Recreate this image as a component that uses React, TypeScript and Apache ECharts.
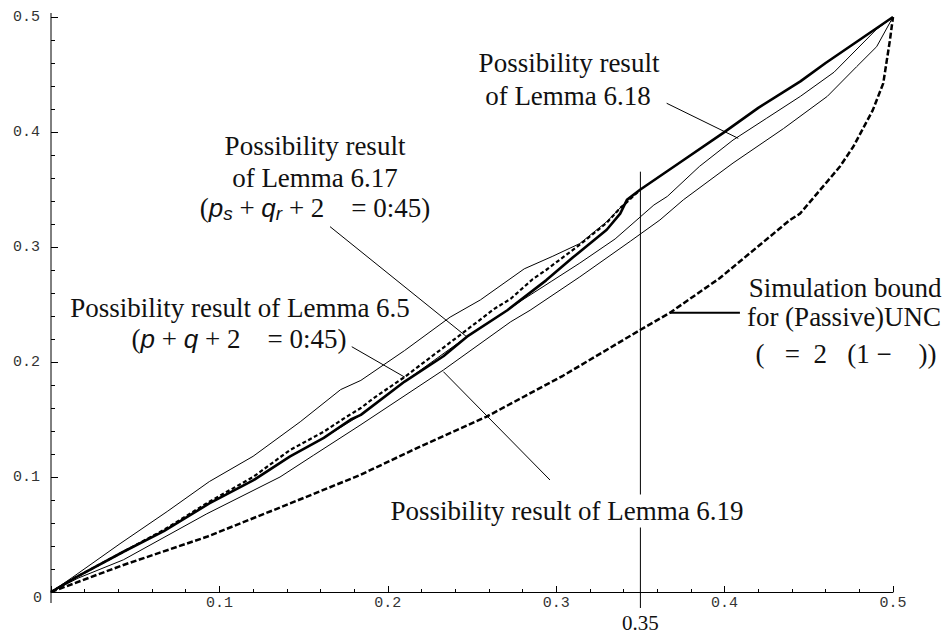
import React, { useEffect, useRef } from 'react';
import * as echarts from 'echarts';

// x ticks / y ticks (0..0.5 step 0.1) come from the value axes
const AXIS_MIN = 0;
const AXIS_MAX = 0.5;
const AXIS_STEP = 0.1;

// Upper thin solid curve (unlabelled)
const UPPER_THIN: [number, number][] = [
  [0, 0], [0.013, 0.013], [0.041, 0.042], [0.069, 0.07], [0.094, 0.096], [0.12, 0.118],
  [0.148, 0.148], [0.172, 0.176], [0.184, 0.184], [0.21, 0.21], [0.237, 0.239], [0.255, 0.254],
  [0.281, 0.281], [0.298, 0.292], [0.314, 0.303], [0.33, 0.322], [0.342, 0.34], [0.35, 0.35],
];

// Lemma 6.17 (thick solid)
const LEMMA_6_17: [number, number][] = [
  [0, 0], [0.015, 0.013], [0.043, 0.035], [0.067, 0.053], [0.094, 0.077], [0.12, 0.097],
  [0.142, 0.118], [0.162, 0.134], [0.178, 0.15], [0.184, 0.154], [0.21, 0.183], [0.233, 0.205],
  [0.247, 0.222], [0.271, 0.245], [0.294, 0.271], [0.31, 0.291], [0.33, 0.315], [0.338, 0.329],
  [0.342, 0.341], [0.35, 0.35], [0.375, 0.375], [0.399, 0.399], [0.42, 0.421], [0.445, 0.444],
  [0.46, 0.46], [0.48, 0.48], [0.5, 0.5],
];

// Lemma 6.5 (dashed, close to 6.17)
const LEMMA_6_5: [number, number][] = [
  [0, 0], [0.015, 0.013], [0.043, 0.035], [0.067, 0.054], [0.094, 0.0785], [0.12, 0.1],
  [0.142, 0.1235], [0.162, 0.1394], [0.174, 0.151], [0.184, 0.16], [0.191, 0.168], [0.21, 0.187],
  [0.247, 0.228], [0.263, 0.246], [0.273, 0.255], [0.286, 0.272], [0.294, 0.28], [0.314, 0.302],
  [0.33, 0.321], [0.338, 0.334], [0.342, 0.339], [0.35, 0.35],
];

// Lemma 6.18 (thin, follows 6.17 then splits)
const LEMMA_6_18: [number, number][] = [
  [0, 0], [0.015, 0.013], [0.043, 0.035], [0.067, 0.053], [0.094, 0.077], [0.12, 0.097],
  [0.142, 0.118], [0.162, 0.134], [0.184, 0.154], [0.21, 0.183], [0.247, 0.222], [0.271, 0.245],
  [0.28, 0.254], [0.297, 0.27], [0.314, 0.286], [0.335, 0.307], [0.358, 0.3365], [0.366, 0.344],
  [0.385, 0.37], [0.405, 0.393], [0.425, 0.412], [0.445, 0.431], [0.465, 0.452], [0.49, 0.489],
  [0.5, 0.5],
];

// Lemma 6.19 (lower thin)
const LEMMA_6_19: [number, number][] = [
  [0, 0], [0.016, 0.012], [0.043, 0.028], [0.0925, 0.068], [0.136, 0.1], [0.156, 0.119],
  [0.1835, 0.145], [0.233, 0.193], [0.273, 0.235], [0.2845, 0.245], [0.314, 0.274],
  [0.344, 0.305], [0.3616, 0.3235], [0.3755, 0.341], [0.405, 0.373], [0.435, 0.403],
  [0.461, 0.431], [0.4784, 0.4568], [0.4903, 0.4742], [0.5, 0.5],
];

// Simulation bound for (Passive)UNC (lower thick dashed)
const SIM_BOUND: [number, number][] = [
  [0, 0], [0.043, 0.0235], [0.0925, 0.048], [0.142, 0.077], [0.1835, 0.1017], [0.22, 0.127],
  [0.2587, 0.1525], [0.304, 0.188], [0.3498, 0.2278], [0.3676, 0.2429], [0.397, 0.2728],
  [0.4388, 0.3235], [0.4448, 0.329], [0.4685, 0.37], [0.4764, 0.3872], [0.488, 0.419],
  [0.4942, 0.4423], [0.4982, 0.48], [0.5, 0.5],
];

const MARK_X = 0.35;

export default function App() {
  const ref = useRef<HTMLDivElement>(null);
  useEffect(() => {
    document.body.style.margin = '0';
    const chart = echarts.init(ref.current!, null, { renderer: 'svg' });
    const labelStyle = { fontFamily: 'Liberation Mono', fontSize: 15, color: '#333' };
    const baseAxis = {
      type: 'value' as const,
      min: AXIS_MIN,
      max: AXIS_MAX,
      interval: AXIS_STEP,
      splitLine: { show: false },
    };
    const line = (data: [number, number][], width: number, type: any, z: number) => ({
      type: 'line',
      data,
      symbol: 'none',
      silent: true,
      z,
      lineStyle: { color: '#000', width, type },
    });
    chart.setOption({
      animation: false,
      grid: { left: 51, right: 53, top: 17, bottom: 42 },
      xAxis: [
        {
          ...baseAxis,
          axisLine: { show: true, lineStyle: { color: '#000', width: 1 } },
          axisTick: { show: true, inside: true, length: 6, lineStyle: { color: '#000' } },
          minorTick: { show: true, splitNumber: 5, length: 3, lineStyle: { color: '#000' } },
          axisLabel: { ...labelStyle, margin: 4, showMinLabel: false, formatter: (v: number) => v.toFixed(1) },
        },
        {
          ...baseAxis,
          axisLine: { show: false },
          axisTick: { show: true, inside: false, length: 5, lineStyle: { color: '#000' } },
          minorTick: { show: true, splitNumber: 5, length: 2, lineStyle: { color: '#000' } },
          axisLabel: { show: false },
        },
      ],
      yAxis: [
        {
          ...baseAxis,
          axisLine: { show: false },
          axisTick: { show: true, inside: true, length: 7, lineStyle: { color: '#000' } },
          minorTick: { show: true, splitNumber: 5, length: 4, lineStyle: { color: '#000' } },
          axisLabel: { ...labelStyle, margin: 11, showMinLabel: false, formatter: (v: number) => v.toFixed(1) },
        },
        {
          ...baseAxis,
          axisLine: { show: false },
          axisTick: { show: true, inside: false, length: 7, lineStyle: { color: '#000' } },
          minorTick: { show: true, splitNumber: 5, length: 4, lineStyle: { color: '#000' } },
          axisLabel: { show: false },
        },
      ],
      series: [
        line(SIM_BOUND, 2.5, [6, 2.5], 2),
        line(UPPER_THIN, 1, 'solid', 3),
        line(LEMMA_6_19, 1, 'solid', 3),
        line(LEMMA_6_18, 1, 'solid', 3),
        line(LEMMA_6_5, 2.2, [4, 2.5], 4),
        line(LEMMA_6_17, 2.6, 'solid', 5),
      ],
    });

    const px = (pt: number[]) => chart.convertToPixel({ seriesIndex: 0 }, pt) as number[];
    const o = px([0, 0]);
    const top = px([0, AXIS_MAX]);
    const serif = 'Liberation Serif';
    const txt = (x: number, y: number, text: string, extra: any = {}) => ({
      type: 'text',
      x,
      y,
      z: 100,
      style: {
        text,
        fontFamily: serif,
        fontSize: 27,
        fill: '#111',
        align: 'center',
        verticalAlign: 'middle',
        ...extra,
      },
    });
    const seg = (a: number[], b: number[], w = 1) => ({
      type: 'line',
      z: 50,
      shape: { x1: a[0], y1: a[1], x2: b[0], y2: b[1] },
      style: { stroke: '#000', lineWidth: w },
    });
    const vTop = px([MARK_X, 0.3655]);
    const vBot = px([MARK_X, -0.0139]);
    const rich = {
      n: { fontFamily: serif, fontSize: 27, lineHeight: 30, verticalAlign: 'middle', fill: '#111' },
      i: { fontFamily: 'Liberation Sans', fontStyle: 'italic', fontSize: 26, lineHeight: 30, verticalAlign: 'middle', fill: '#111' },
      s: { fontFamily: 'Liberation Sans', fontStyle: 'italic', fontSize: 19, lineHeight: 14, verticalAlign: 'bottom', fill: '#111' },
    };
    chart.setOption({
      graphic: {
        elements: [
          // y axis line (extends a little beyond the plot)
          seg([o[0], top[1] - 4], [o[0], o[1] + 11]),
          { type: 'text', x: o[0] - 9, y: o[1] + 6, style: { text: '0', fontFamily: 'Liberation Mono', fontSize: 15, fill: '#333', align: 'right', verticalAlign: 'middle' } },
          // vertical marker at 0.35
          seg(vTop, vBot),
          txt(vBot[0], vBot[1] + 15, '0.35', { fontSize: 21 }),
          // Lemma 6.18
          txt(569, 63, 'Possibility result'),
          txt(568, 96, 'of Lemma 6.18'),
          seg(px([0.3656, 0.425]), px([0.4081, 0.3945])),
          // Lemma 6.17
          txt(315, 146, 'Possibility result'),
          txt(315, 178, 'of Lemma 6.17'),
          txt(315, 208, '{n|(}{i|p}{s|s}{n| + }{i|q}{s|r}{n| + 2    = 0:45)}', { rich }),
          seg(px([0.1657, 0.3177]), px([0.2468, 0.222])),
          // Lemma 6.5
          txt(240, 308, 'Possibility result of Lemma 6.5'),
          txt(239, 339, '{n|(}{i|p}{n| + }{i|q}{n| + 2    = 0:45)}', { rich }),
          seg(px([0.1786, 0.2133]), px([0.2102, 0.1867])),
          // Lemma 6.19
          txt(567, 511, 'Possibility result of Lemma 6.19', { backgroundColor: '#fff', padding: [3, 2] }),
          seg(px([0.233, 0.1916]), px([0.2963, 0.0974])),
          // Simulation bound
          txt(845, 288, 'Simulation bound'),
          txt(844, 317, 'for (Passive)UNC'),
          txt(846, 354, '(   =  2   (1 −    ))'),
          seg(px([0.3676, 0.2429]), px([0.4091, 0.2429]), 2),
        ],
      },
    });
    return () => chart.dispose();
  }, []);
  return <div ref={ref} style={{ width: 946, height: 634 }} />;
}
